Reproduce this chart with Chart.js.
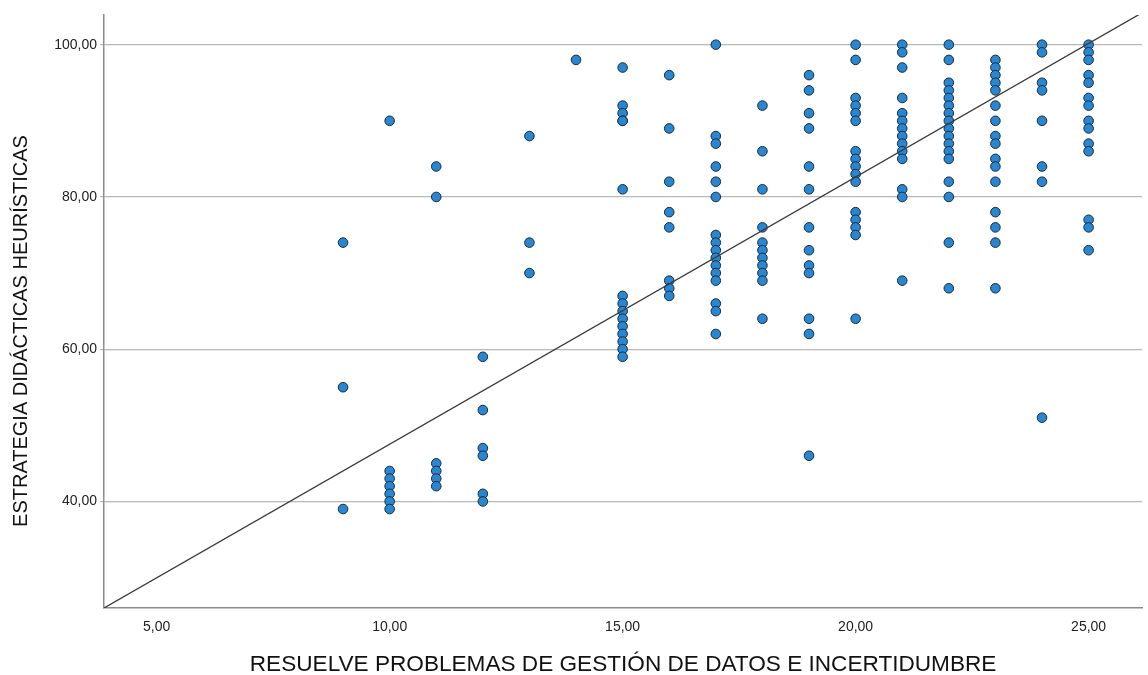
<!DOCTYPE html>
<html>
<head>
<meta charset="utf-8">
<script src="https://cdn.jsdelivr.net/npm/chart.js@4"></script>
<style>
    body { margin: 0; background: #fff; }
    #wrap { width: 1148px; height: 675px; position: relative; }
</style>
</head>
<body>
<div id="wrap"><canvas id="scatterChart"></canvas></div>
<script>
// score columns (x) and the y values observed in each column
const columnX = [9, 10, 11, 12, 13, 14, 15, 16, 17, 18, 19, 20, 21, 22, 23, 24, 25];
const columnY = [
    [74, 55, 39],
    [90, 44, 43, 42, 41, 40, 39],
    [84, 80, 45, 44, 43, 42],
    [59, 52, 47, 46, 41, 40],
    [88, 74, 70],
    [98],
    [97, 92, 91, 90, 90, 81, 67, 66, 65, 64, 63, 62, 61, 60, 59],
    [96, 89, 82, 78, 76, 69, 68, 67],
    [100, 88, 87, 84, 82, 80, 75, 74, 73, 72, 71, 70, 69, 66, 65, 62],
    [92, 86, 81, 76, 74, 73, 72, 71, 70, 69, 64],
    [96, 94, 91, 89, 84, 81, 76, 73, 71, 70, 64, 62, 46],
    [100, 98, 93, 92, 91, 90, 86, 85, 84, 83, 82, 78, 77, 76, 75, 64],
    [100, 99, 97, 93, 91, 90, 89, 88, 87, 86, 85, 81, 80, 69],
    [100, 98, 95, 94, 93, 92, 91, 90, 89, 88, 87, 86, 85, 82, 80, 74, 68],
    [98, 97, 96, 95, 94, 92, 90, 88, 87, 85, 84, 82, 78, 76, 74, 68],
    [100, 99, 95, 94, 90, 84, 82, 51],
    [100, 99, 98, 96, 95, 93, 92, 90, 89, 87, 86, 77, 76, 73]
];

// fit line end points
const fitX = [3.87, 26.15];
const fitY = [26.0, 104.2];

const xTicks = [5, 10, 15, 20, 25];
const yTicks = [40, 60, 80, 100];

const xTitle = 'RESUELVE PROBLEMAS DE GESTIÓN DE DATOS E INCERTIDUMBRE';
const yTitle = 'ESTRATEGIA DIDÁCTICAS HEURÍSTICAS';

const points = [];
columnX.forEach((x, i) => {
    columnY[i].forEach(y => points.push({ x: x, y: y }));
});

const fmt = v => Number(v).toFixed(2).replace('.', ',');

// y title placed like the original (a bit below the plot centre)
const yTitlePlugin = {
    id: 'yTitle',
    afterDraw(chart) {
        const ctx = chart.ctx;
        ctx.save();
        ctx.translate(21, 331);
        ctx.rotate(-Math.PI / 2);
        ctx.font = '20px "Liberation Sans", Arial, sans-serif';
        ctx.fillStyle = '#111';
        ctx.textAlign = 'center';
        ctx.textBaseline = 'middle';
        ctx.fillText(yTitle, 0, 0);
        ctx.restore();
    }
};

const ctx = document.getElementById('scatterChart').getContext('2d');
new Chart(ctx, {
    type: 'scatter',
    data: {
        datasets: [
            {
                type: 'line',
                data: fitX.map((x, i) => ({ x: x, y: fitY[i] })),
                borderColor: '#3a3a3a',
                borderWidth: 1.3,
                pointRadius: 0,
                fill: false
            },
            {
                data: points,
                backgroundColor: '#2887d2',
                borderColor: '#1a2a3a',
                borderWidth: 1,
                pointRadius: 4.8,
                pointHoverRadius: 4.8
            }
        ]
    },
    options: {
        responsive: true,
        maintainAspectRatio: false,
        animation: false,
        layout: { padding: { top: 15, right: 1, left: 0, bottom: 0 } },
        plugins: {
            legend: { display: false },
            tooltip: { enabled: false }
        },
        scales: {
            x: {
                type: 'linear',
                min: 3.87,
                max: 26.15,
                afterFit: s => {
                    s.height = 67;
                    s.paddingLeft = 0;
                    s.paddingRight = 0;
                },
                afterBuildTicks: s => { s.ticks = xTicks.map(v => ({ value: v })); },
                grid: { display: false, drawTicks: false },
                border: { display: true, color: '#8c8c8c', width: 1.5 },
                ticks: {
                    padding: 11,
                    color: '#222',
                    font: { family: '"Liberation Sans", Arial, sans-serif', size: 14 },
                    callback: fmt
                },
                title: {
                    display: true,
                    text: xTitle,
                    color: '#111',
                    font: { family: '"Liberation Sans", Arial, sans-serif', size: 22.6 },
                    padding: { top: 0, bottom: -3 }
                }
            },
            y: {
                min: 26.0,
                max: 103.9,
                afterFit: s => { s.width = 104; },
                afterBuildTicks: s => { s.ticks = yTicks.map(v => ({ value: v })); },
                grid: { color: '#b8b8b8', lineWidth: 1.2, tickLength: 4 },
                border: { display: true, color: '#8c8c8c', width: 1.5 },
                ticks: {
                    padding: 3,
                    color: '#222',
                    font: { family: '"Liberation Sans", Arial, sans-serif', size: 14 },
                    callback: fmt
                }
            }
        }
    },
    plugins: [yTitlePlugin]
});
</script>
</body>
</html>
